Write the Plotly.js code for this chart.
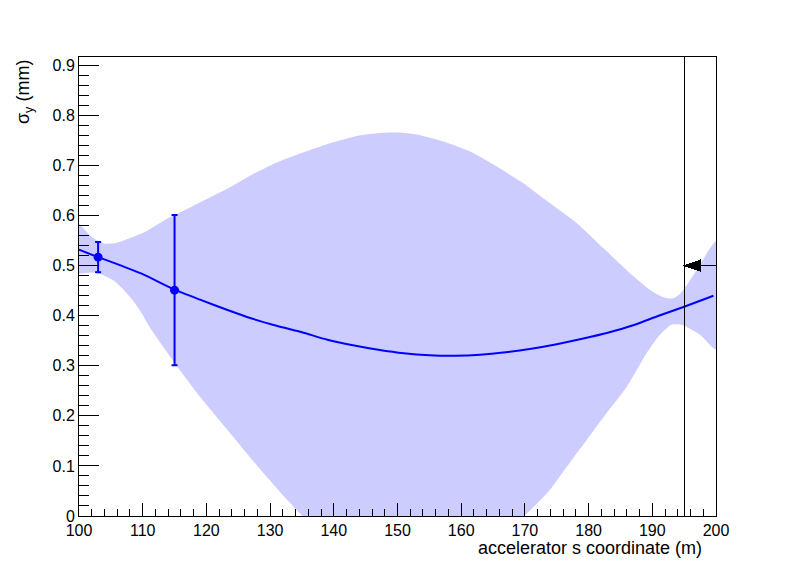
<!DOCTYPE html>
<html>
<head>
<meta charset="utf-8">
<script src="https://cdn.plot.ly/plotly-3.0.1.min.js"></script>
<style>
  html, body { margin: 0; padding: 0; background: #ffffff; }
  #chart { width: 796px; height: 572px; }
  .shapelayer path { shape-rendering: crispEdges; }
</style>
</head>
<body>
<div id="chart"></div>
<script>
// ---- data ----
const bandUpperS = [100, 101.6, 102.6, 103.9, 105.8, 107.8, 110.5, 113.6, 115.7, 119.9, 123.5, 127.2, 131.4, 135.6, 139.8, 144, 147.1, 150.2, 153, 157.2, 161.4, 165.6, 169.7, 173.9, 178.1, 182.3, 186.5, 189.6, 191.2, 192.3, 193.3, 194.1, 194.9, 197, 200];
const bandUpperV = [0.584, 0.562, 0.552, 0.544, 0.545, 0.554, 0.568, 0.592, 0.605, 0.632, 0.655, 0.682, 0.708, 0.728, 0.746, 0.760, 0.765, 0.766, 0.762, 0.748, 0.728, 0.698, 0.665, 0.625, 0.585, 0.535, 0.485, 0.452, 0.440, 0.435, 0.435, 0.441, 0.452, 0.492, 0.548];

const bandLowerS = [100, 102.8, 104.3, 105.5, 107, 108.5, 110, 111.1, 113, 115.1, 119, 122.9, 126.8, 130.8, 134.7, 140, 145, 150, 155, 160, 165, 170.3, 173.9, 176.6, 179.7, 182.8, 186, 189.1, 191.2, 193, 194.6, 197.5, 200];
const bandLowerV = [0.484, 0.486, 0.478, 0.470, 0.452, 0.430, 0.402, 0.377, 0.342, 0.304, 0.238, 0.178, 0.118, 0.059, 0.005, -0.06, -0.10, -0.115, -0.11, -0.09, -0.05, 0.005, 0.052, 0.099, 0.152, 0.205, 0.258, 0.325, 0.362, 0.382, 0.382, 0.362, 0.333];

const fitS = [100, 103, 106, 110, 115, 119, 123, 127, 131, 135, 139, 143, 147, 151, 155, 159, 163, 167, 171, 175, 179, 183, 187, 191, 195, 199.6];
const fitV = [0.532, 0.517, 0.503, 0.483, 0.452, 0.432, 0.413, 0.395, 0.380, 0.367, 0.352, 0.341, 0.332, 0.325, 0.321, 0.320, 0.322, 0.327, 0.334, 0.343, 0.354, 0.366, 0.381, 0.400, 0.418, 0.440];

const measS = [103, 115];
const measV = [0.517, 0.451];
const measErr = [0.030, 0.150];

const markerS = [195];          // vertical marker line
const arrowTipS = [195];
const arrowTailS = [200];
const arrowV = [0.5];

const xTitle = "accelerator s coordinate (m)";
const yTitle = "σ<sub>y</sub> (mm)";

// ---- layout geometry ----
const W = 796, H = 572;
const mL = 79, mR = 80, mT = 57, mB = 56;
const xRange = [100, 200];
const yRange = [0, 0.9167];
const plotW = W - mL - mR, plotH = H - mT - mB;
const pxPerS = plotW / (xRange[1] - xRange[0]);
const pxPerV = plotH / (yRange[1] - yRange[0]);

const bandX = bandUpperS.concat(bandLowerS.slice().reverse());
const bandY = bandUpperV.concat(bandLowerV.slice().reverse());

const blue = 'rgb(0,0,255)';
const fontFam = 'Liberation Sans, Arial, Helvetica, sans-serif';

const traces = [
  {
    x: bandX, y: bandY, type: 'scatter', mode: 'lines',
    fill: 'toself', fillcolor: 'rgb(204,204,255)',
    line: { width: 0, color: 'rgba(0,0,0,0)', shape: 'spline', smoothing: 0.6 },
    hoverinfo: 'skip', showlegend: false
  },
  {
    x: fitS, y: fitV, type: 'scatter', mode: 'lines',
    line: { color: blue, width: 2, shape: 'spline', smoothing: 0.6 }, showlegend: false
  },
  {
    x: measS, y: measV, type: 'scatter', mode: 'markers',
    marker: { color: blue, size: 9, symbol: 'circle' },
    error_y: { type: 'data', array: measErr, visible: true, color: blue, thickness: 2, width: 3 },
    showlegend: false
  }
];

// arrow head geometry (style sizes in px converted to data units)
const headLenPx = 16, headHalfPx = 5.5;
const shapes = [];
markerS.forEach(s => {
  shapes.push({ type: 'line', xref: 'x', yref: 'paper', x0: s, x1: s, y0: 0, y1: 1,
                line: { color: 'black', width: 1 } });
});
arrowTipS.forEach((tip, i) => {
  const tail = arrowTailS[i], v = arrowV[i];
  const dir = Math.sign(tail - tip);
  const back = tip + dir * headLenPx / pxPerS;
  const hw = headHalfPx / pxPerV;
  shapes.push({ type: 'line', xref: 'x', yref: 'y', x0: back, x1: tail, y0: v, y1: v,
                line: { color: 'black', width: 1 } });
  shapes.push({ type: 'path', xref: 'x', yref: 'y',
                path: `M ${tip},${v} L ${back},${v + hw} L ${back},${v - hw} Z`,
                fillcolor: 'black', line: { color: 'black', width: 1 } });
});

const axisCommon = {
  showgrid: false, zeroline: false,
  showline: true, mirror: true, linecolor: 'black', linewidth: 1,
  ticks: 'inside', tickcolor: 'black', tickwidth: 1,
  tickfont: { family: fontFam, size: 16, color: 'black' }
};

const layout = {
  width: W, height: H,
  margin: { l: mL, r: mR, t: mT, b: mB, pad: 0 },
  paper_bgcolor: 'white', plot_bgcolor: 'white',
  showlegend: false,
  xaxis: Object.assign({}, axisCommon, {
    range: xRange, tick0: 100, dtick: 10, ticklen: 13,
    minor: { dtick: 2, ticklen: 7, ticks: 'inside', tickcolor: 'black', tickwidth: 1, showgrid: false }
  }),
  yaxis: Object.assign({}, axisCommon, {
    range: yRange, tick0: 0, dtick: 0.1, ticklen: 20,
    minor: { dtick: 0.02, ticklen: 10, ticks: 'inside', tickcolor: 'black', tickwidth: 1, showgrid: false }
  }),
  shapes: shapes,
  annotations: [
    { text: xTitle, xref: 'paper', yref: 'paper', x: (703 - mL) / plotW, y: -(548 - (H - mB)) / plotH,
      xanchor: 'right', yanchor: 'middle', showarrow: false, borderpad: 0,
      font: { family: fontFam, size: 18, color: 'black' } },
    { text: yTitle, xref: 'paper', yref: 'paper', x: (24 - mL) / plotW, y: 1 - (58 - mT) / plotH,
      xanchor: 'center', yanchor: 'top', textangle: -90, showarrow: false,
      font: { family: fontFam, size: 18, color: 'black' } }
  ]
};

Plotly.newPlot('chart', traces, layout, { displayModeBar: false, staticPlot: true });
</script>
</body>
</html>
